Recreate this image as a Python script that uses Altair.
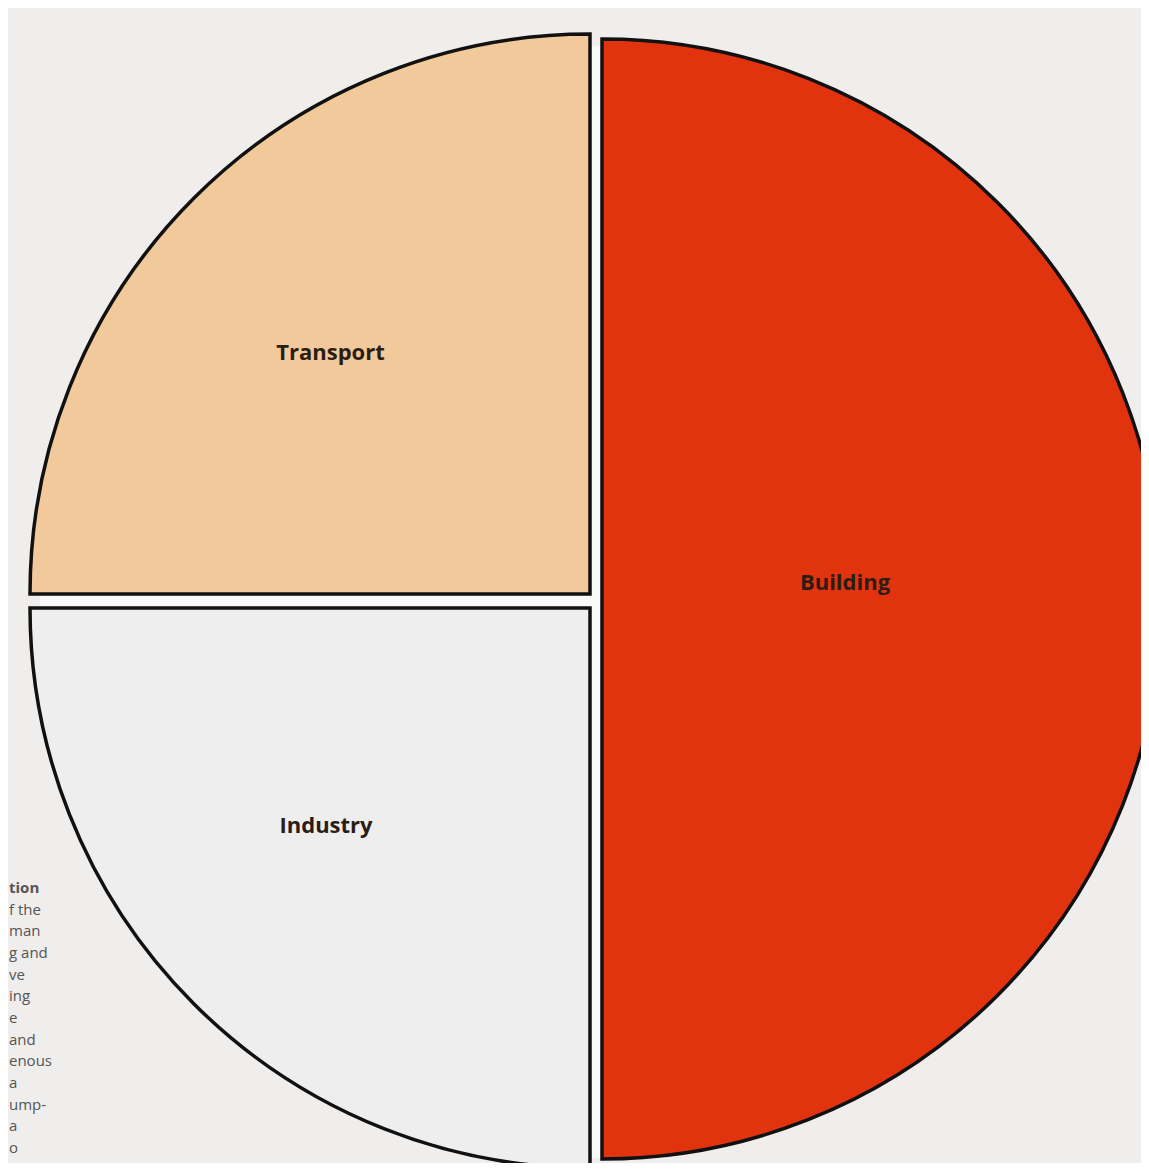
import altair as alt
import pandas as pd

# ---- data ----
categories = ["Building", "Industry", "Transport"]
shares = [50, 25, 25]
slice_order = [0, 1, 2]
colors = ["#e2330f", "#efeeee", "#f2c99a"]

# fragments of body text visible at the cut left edge of the scanned page
margin_lines = ["tion", "f the", "man", "g and", "ve", "ing", "e", "and",
                "enous", "a", "ump-", "a", "o"]
margin_line_no = list(range(len(margin_lines)))
margin_bold = [True] + [False] * (len(margin_lines) - 1)

df = pd.DataFrame({"category": categories, "share": shares, "order": slice_order})
txt_df = pd.DataFrame({"line": margin_lines, "n": margin_line_no, "bold": margin_bold})

W, H = 1149 - 16, 1171 - 16
R = 560

# per-slice geometry (exploded centres), label radius and label nudges
geom = {
    "Building": dict(cx=594, cy=591, lr=243, dx=0, dy=-16),
    "Industry": dict(cx=582, cy=600, lr=345, dx=-20, dy=-26),
    "Transport": dict(cx=582, cy=586, lr=350, dx=-12, dy=6),
}

theta_scale = alt.Scale(domain=[0, 100], range=[0, 6.283185307])
color_scale = alt.Scale(domain=categories, range=colors)

base = (
    alt.Chart(df)
    .transform_window(cum="sum(share)", sort=[alt.SortField("order")], frame=[None, 0])
    .transform_calculate(start="datum.cum - datum.share",
                         mid="datum.cum - datum.share / 2")
)

# white underlay so the gaps between slices read as white
underlay = alt.Chart(df).mark_arc(radius=R - 4, theta=0, theta2=6.283185307,
                                  fill="#f9f9f8").encode(
    x=alt.value(588), y=alt.value(594))

layers = [underlay]
for c in categories:
    g = geom[c]
    sub = base.transform_filter(alt.datum.category == c)
    arc = sub.mark_arc(radius=R, stroke="#111111", strokeWidth=3.5).encode(
        theta=alt.Theta("start:Q", scale=theta_scale),
        theta2="cum:Q",
        color=alt.Color("category:N", scale=color_scale, legend=None),
        x=alt.value(g["cx"]), y=alt.value(g["cy"]),
    )
    lab = sub.mark_text(radius=g["lr"], dx=g["dx"], dy=g["dy"], font="Open Sans",
                        fontWeight="bold", fontSize=22, color="#2b1d14").encode(
        theta=alt.Theta("mid:Q", scale=theta_scale),
        text="category:N",
        x=alt.value(g["cx"]), y=alt.value(g["cy"]),
    )
    layers += [arc, lab]

y_lines = alt.Y("n:Q", scale=alt.Scale(domain=[0, 12], range=[880, 1140]), axis=None)
for is_bold in (True, False):
    layers.append(
        alt.Chart(txt_df)
        .transform_filter(alt.datum.bold == is_bold)
        .mark_text(align="left", baseline="middle", font="Open Sans", fontSize=15,
                   color="#555555", fontWeight="bold" if is_bold else "normal")
        .encode(x=alt.value(1), y=y_lines, text="line:N")
    )

chart = (
    alt.layer(*layers)
    .properties(width=W, height=H, padding=0, background="#efeeec",
                autosize=alt.AutoSizeParams(type="none"))
    .configure_view(stroke=None)
)

chart.save("out.html", embed_options={"renderer": "svg", "actions": False})
